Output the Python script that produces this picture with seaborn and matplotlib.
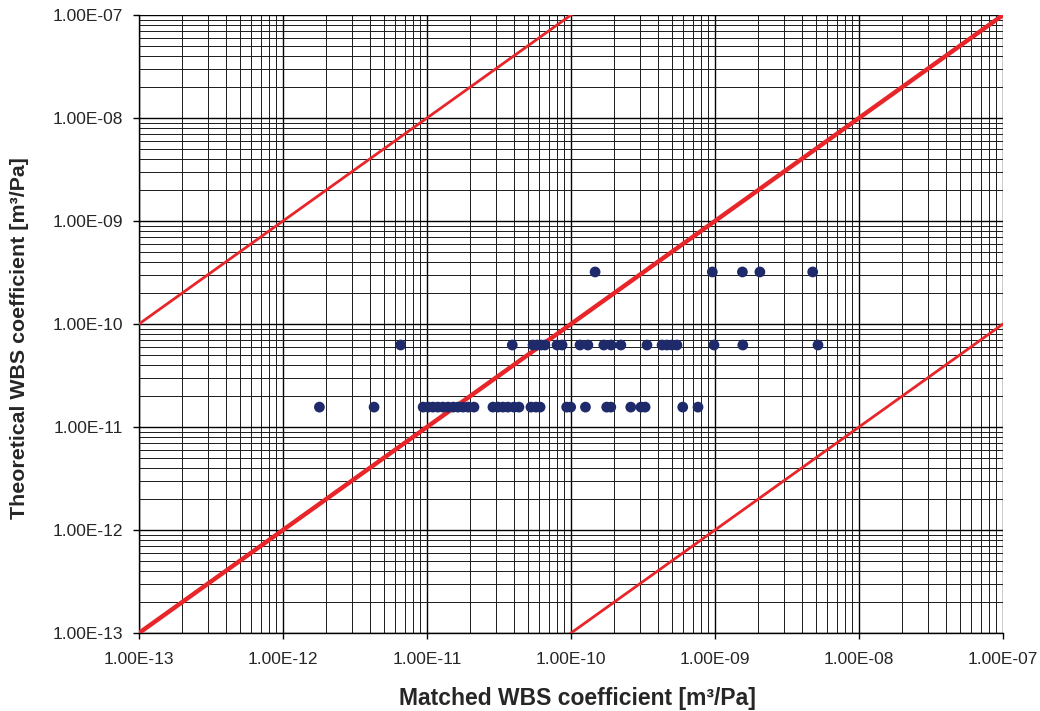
import numpy as np
import pandas as pd
import matplotlib
matplotlib.use("Agg")
import matplotlib.pyplot as plt
import seaborn as sns
from matplotlib.ticker import LogLocator, FuncFormatter, NullFormatter

# Data
row1_x = [1.79e-12, 4.29e-12, 9.4e-12, 1.02e-11, 1.10e-11, 1.19e-11, 1.29e-11, 1.40e-11,
          1.52e-11, 1.64e-11, 1.78e-11, 1.93e-11, 2.12e-11, 2.87e-11, 3.11e-11, 3.37e-11,
          3.65e-11, 4.02e-11, 4.35e-11, 5.27e-11, 5.71e-11, 6.10e-11, 9.33e-11, 9.95e-11,
          1.26e-10, 1.77e-10, 1.89e-10, 2.60e-10, 3.06e-10, 3.27e-10, 5.97e-10, 7.62e-10]
row1_y = 1.56e-11
row2_x = [6.56e-12, 3.91e-11, 5.45e-11, 5.81e-11, 6.19e-11, 6.59e-11, 8.0e-11, 8.67e-11,
          1.155e-10, 1.31e-10, 1.69e-10, 1.90e-10, 2.22e-10, 3.37e-10, 4.29e-10, 4.64e-10,
          5.02e-10, 5.44e-10, 9.84e-10, 1.56e-9, 5.19e-9]
row2_y = 6.25e-11
row3_x = [1.47e-10, 9.58e-10, 1.55e-9, 2.05e-9, 4.77e-9]
row3_y = 3.2e-10

line_x = [1e-13, 1e-7]
line_factors = [1000.0, 1.0, 0.001]

xlabel = "Matched WBS coefficient [m\u00b3/Pa]"
ylabel = "Theoretical WBS coefficient [m\u00b3/Pa]"

df = pd.DataFrame({
    "matched": row1_x + row2_x + row3_x,
    "theoretical": [row1_y] * len(row1_x) + [row2_y] * len(row2_x) + [row3_y] * len(row3_x),
})

sns.set_style("white")
plt.rcParams["font.family"] = ["Liberation Sans", "DejaVu Sans"]

fig = plt.figure(figsize=(10.4, 7.11), dpi=100)
ax = fig.add_axes([139 / 1040, 1 - 633 / 711, (1003 - 139) / 1040, (633 - 15) / 711])
ax.set_xscale("log")
ax.set_yscale("log")
ax.set_xlim(1e-13, 1e-7)
ax.set_ylim(1e-13, 1e-7)

# grid
ax.xaxis.set_major_locator(LogLocator(base=10, numticks=20))
ax.yaxis.set_major_locator(LogLocator(base=10, numticks=20))
ax.xaxis.set_minor_locator(LogLocator(base=10, subs=np.arange(2, 10), numticks=100))
ax.yaxis.set_minor_locator(LogLocator(base=10, subs=np.arange(2, 10), numticks=100))
ax.xaxis.set_minor_formatter(NullFormatter())
ax.yaxis.set_minor_formatter(NullFormatter())
fmt = FuncFormatter(lambda v, p: f"{v:.2E}")
ax.xaxis.set_major_formatter(fmt)
ax.yaxis.set_major_formatter(fmt)
ax.grid(True, which="major", color="black", linewidth=1.0)
ax.grid(True, which="minor", color="#1a1a1a", linewidth=0.7)
ax.set_axisbelow(True)

# reference lines
for f in line_factors:
    lw = 3.2 if f == 1.0 else 2.0
    sns.lineplot(x=line_x, y=[v * f for v in line_x], ax=ax, color="#e8262a",
                 linewidth=lw, zorder=3, legend=False)

sns.scatterplot(data=df, x="matched", y="theoretical", ax=ax, color="#1f2a6b",
                s=60, edgecolor="none", zorder=4, legend=False)

ax.set_xlim(1e-13, 1e-7)
ax.set_ylim(1e-13, 1e-7)

for s in ["top", "right"]:
    ax.spines[s].set_visible(False)
for s in ["left", "bottom"]:
    ax.spines[s].set_color("black")
    ax.spines[s].set_linewidth(1.0)

ax.tick_params(axis="both", which="major", direction="out", length=4.5, width=1,
               color="black", labelsize=12.5, left=True, bottom=True)
ax.tick_params(axis="y", which="major", pad=7)
ax.tick_params(axis="x", which="major", pad=9)
ax.tick_params(axis="both", which="minor", length=0)

ax.set_xlabel(xlabel, fontsize=16.5, fontweight="bold")
ax.set_ylabel(ylabel, fontsize=15.4, fontweight="bold")
ax.xaxis.label.set_va("center")
ax.yaxis.label.set_va("center")
ax.xaxis.set_label_coords(0.507, -(699 - 633) / 618)
ax.yaxis.set_label_coords(-(139 - 20) / 864, 0.477)

fig.savefig("out.png", dpi=100)
